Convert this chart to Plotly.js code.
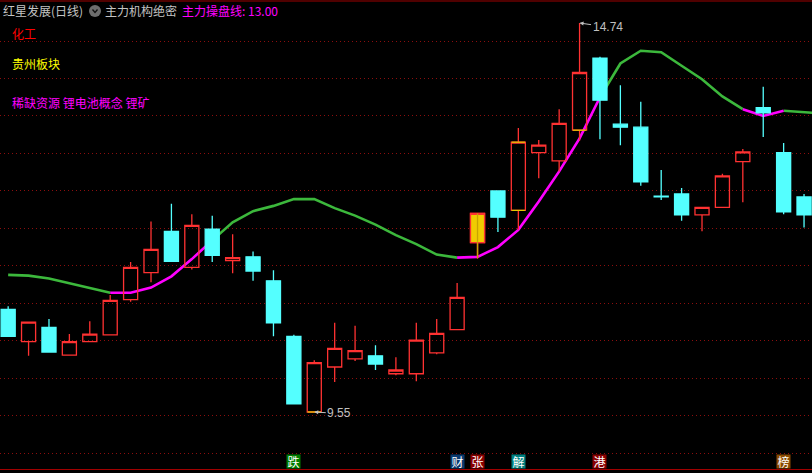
<!DOCTYPE html>
<html>
<head>
<meta charset="utf-8">
<script src="https://cdn.plot.ly/plotly-3.0.1.min.js"></script>
<style>html,body{margin:0;padding:0;background:#000;overflow:hidden}#chart{width:812px;height:473px}</style>
</head>
<body>
<div id="chart"></div>
<script>
// Candle values (i = 0..39)
const opens  = [10.92,10.49,10.68,10.31,10.49,10.58,11.05,11.41,11.96,11.48,11.99,11.57,11.62,11.30,10.56,9.55,10.15,10.26,10.30,10.06,10.06,10.34,10.65,11.81,12.50,12.24,13.01,12.90,13.31,14.27,13.39,13.35,12.43,12.46,12.18,12.28,12.89,13.61,13.01,12.42];
const highs  = [10.96,10.75,10.79,10.59,10.76,11.11,11.55,12.09,12.33,12.19,12.17,11.92,11.69,11.44,10.58,10.24,10.74,10.70,10.44,10.28,10.74,10.79,11.27,12.20,12.50,13.34,13.18,13.59,14.74,14.29,13.91,13.69,12.78,12.54,12.28,12.73,13.06,13.89,13.14,12.46];
const lows   = [10.56,10.30,10.34,10.31,10.49,10.58,11.02,11.28,11.56,11.45,11.55,11.40,11.30,10.56,9.66,9.55,9.95,10.23,10.11,10.04,9.96,10.32,10.65,11.60,11.95,11.98,12.67,12.76,13.17,13.19,13.11,12.57,12.38,12.10,11.96,12.28,12.35,13.22,12.19,12.01];
const closes = [10.56,10.75,10.35,10.49,10.59,11.04,11.48,11.72,11.56,12.04,11.64,11.61,11.43,10.74,9.66,10.21,10.40,10.37,10.19,10.11,10.51,10.60,11.08,12.20,12.15,13.15,13.11,13.40,14.08,13.71,13.35,12.62,12.42,12.18,12.28,12.70,13.02,13.54,12.22,12.18];

// 主力操盘线 (one extra value runs off the right edge)
const mainLine = [11.38,11.37,11.33,11.27,11.20,11.14,11.14,11.21,11.36,11.59,11.84,12.08,12.23,12.30,12.39,12.39,12.27,12.17,12.05,11.91,11.79,11.65,11.61,11.62,11.75,11.98,12.36,12.76,13.20,13.75,14.20,14.37,14.35,14.17,13.99,13.76,13.59,13.50,13.57,13.55,13.53];
const risingSpans  = [[5,10],[22,29],[36,38]];
const fallingSpans = [[0,5],[10,22],[29,36],[38,40]];

const gridPrices = [14.5,14,13.5,13,12.5,12,11.5,11,10.5,10,9.5,9];
const highlightIndex = 23;
const bodyMarkIndex = [15,25,25,28];
const bodyMarkPrice = [9.55,13.15,12.24,13.31];

const tagIndex = [14,22,23,25,29,38];
const tagText  = ['跌','财','张','解','港','榜'];
const tagColor = ['#007c00','#0a3a70','#8a0000','#008080','#8a0000','#8a4a00'];

const W = 812, H = 473;
const CJK = '"Noto Sans CJK SC", sans-serif';
const LAT = '"Liberation Sans", sans-serif';
const xRange = [-0.40, 39.39];
const yRange = [8.736, 15.047];
const RED = '#ff3232', CYAN = '#54ffff', GREEN = '#3cb83c', MAGENTA = '#ff00ff', GOLD = '#f0cc00';
const idx = opens.map((_, i) => i);

function lineTrace(span, color) {
  const xs = [], ys = [];
  for (let i = span[0]; i <= span[1]; i++) { xs.push(i); ys.push(mainLine[i]); }
  return {type:'scatter', mode:'lines', x:xs, y:ys, line:{color:color, width:2.6, shape:'linear'}, xaxis:'x', yaxis:'y', hoverinfo:'skip', showlegend:false};
}

const markX = [], markY = [];
bodyMarkIndex.forEach((k, j) => { markX.push(k-0.33, k+0.33, null); markY.push(bodyMarkPrice[j], bodyMarkPrice[j], null); });

const traces = [
  ...fallingSpans.map(s => lineTrace(s, GREEN)),
  ...risingSpans.map(s => lineTrace(s, MAGENTA)),
  {type:'candlestick', x:idx, open:opens, high:highs, low:lows, close:closes, xaxis:'x2', yaxis:'y2',
   whiskerwidth:0, showlegend:false, hoverinfo:'skip',
   increasing:{line:{color:RED, width:1.3}, fillcolor:'rgba(0,0,0,0)'},
   decreasing:{line:{color:CYAN, width:1.3}, fillcolor:CYAN}},
  {type:'candlestick', x:[highlightIndex], open:[opens[highlightIndex]], high:[highs[highlightIndex]], low:[lows[highlightIndex]], close:[closes[highlightIndex]], xaxis:'x2', yaxis:'y2',
   whiskerwidth:0, showlegend:false, hoverinfo:'skip',
   increasing:{line:{color:RED, width:1.3}, fillcolor:GOLD}, decreasing:{line:{color:RED, width:1.3}, fillcolor:GOLD}},
  {type:'scatter', mode:'lines', x:[highlightIndex, highlightIndex], y:[highs[highlightIndex], lows[highlightIndex]], xaxis:'x2', yaxis:'y2',
   line:{color:'#c8a400', width:1.3}, hoverinfo:'skip', showlegend:false},
  {type:'scatter', mode:'lines', x:markX, y:markY, xaxis:'x2', yaxis:'y2', line:{color:'#e6c800', width:1.3}, hoverinfo:'skip', showlegend:false}
];

function label(text, px, py, color, size) {
  return {xref:'paper', yref:'paper', x:px/W, y:(H-py)/H, text:text, showarrow:false, xanchor:'left', yanchor:'middle',
          font:{family:CJK, size:size||12, color:color}, borderpad:0};
}

const annotations = [
  label('红星发展(日线)', 2, 10.5, '#c4c4c4'),
  label('主力机构绝密', 104, 10.5, '#c4c4c4'),
  label('主力操盘线: 13.00', 181, 10.5, '#ff00ff'),
  label('化工', 11, 33.5, '#ff0000'),
  label('贵州板块', 11, 63.5, '#ffff00'),
  label('稀缺资源 锂电池概念 锂矿', 11, 102.5, '#ff00ff'),
  {xref:'x2', yref:'y2', x:28, y:14.74, text:'14.74', showarrow:true, ax:28, ay:4, arrowhead:2, arrowsize:0.8, arrowwidth:1, arrowcolor:'#c0c0c0',
   font:{family:LAT, size:12, color:'#c0c0c0'}},
  {xref:'x2', yref:'y2', x:15, y:9.55, text:'9.55', showarrow:true, ax:25, ay:1.5, arrowhead:2, arrowsize:0.8, arrowwidth:1, arrowcolor:'#c0c0c0',
   font:{family:LAT, size:12, color:'#c0c0c0'}},
  ...tagIndex.map((k, j) => ({xref:'x2', yref:'paper', x:k, y:(H-461.5)/H, text:tagText[j], showarrow:false, xanchor:'center', yanchor:'middle',
     width:13, height:13, bgcolor:tagColor[j], borderpad:0, font:{family:CJK, size:12, color:'#ffffff'}}))
];

const shapes = [
  {type:'line', xref:'paper', yref:'paper', x0:0, x1:1, y0:(H-1)/H, y1:(H-1)/H, line:{color:'#a00000', width:1}},
  {type:'line', xref:'paper', yref:'paper', x0:0, x1:1, y0:(H-469.5)/H, y1:(H-469.5)/H, line:{color:'#a00000', width:1}},
  {type:'circle', xref:'paper', yref:'paper', x0:89/W, x1:101/W, y0:(H-17)/H, y1:(H-5)/H, fillcolor:'#6e6e6e', line:{width:0}},
  {type:'path', xref:'paper', yref:'paper', path:`M ${92.5/W} ${(H-9.5)/H} L ${95/W} ${(H-12.5)/H} L ${97.5/W} ${(H-9.5)/H}`, line:{color:'#111', width:1.3}}
];

const hiddenX = {range:xRange, type:'linear', showgrid:false, zeroline:false, showticklabels:false, ticks:'', showline:false, fixedrange:true, rangeslider:{visible:false}};
const layout = {
  width:W, height:H, margin:{l:0,r:0,t:0,b:0,pad:0},
  paper_bgcolor:'#000', plot_bgcolor:'#000', showlegend:false,
  boxmode:'overlay', boxgap:0.31, boxgroupgap:0,
  xaxis:{...hiddenX},
  xaxis2:{...hiddenX, overlaying:'x', anchor:'y2'},
  yaxis:{range:yRange, type:'linear', tickmode:'array', tickvals:gridPrices, showgrid:true, gridcolor:'#8c0e0e', griddash:'1px,3px', gridwidth:1, zeroline:false, showticklabels:false, ticks:'', showline:false, fixedrange:true},
  yaxis2:{range:yRange, type:'linear', overlaying:'y', anchor:'x2', showgrid:false, zeroline:false, showticklabels:false, ticks:'', showline:false, fixedrange:true},
  annotations:annotations, shapes:shapes
};
Plotly.newPlot('chart', traces, layout, {displayModeBar:false, staticPlot:true});
</script>
</body>
</html>
